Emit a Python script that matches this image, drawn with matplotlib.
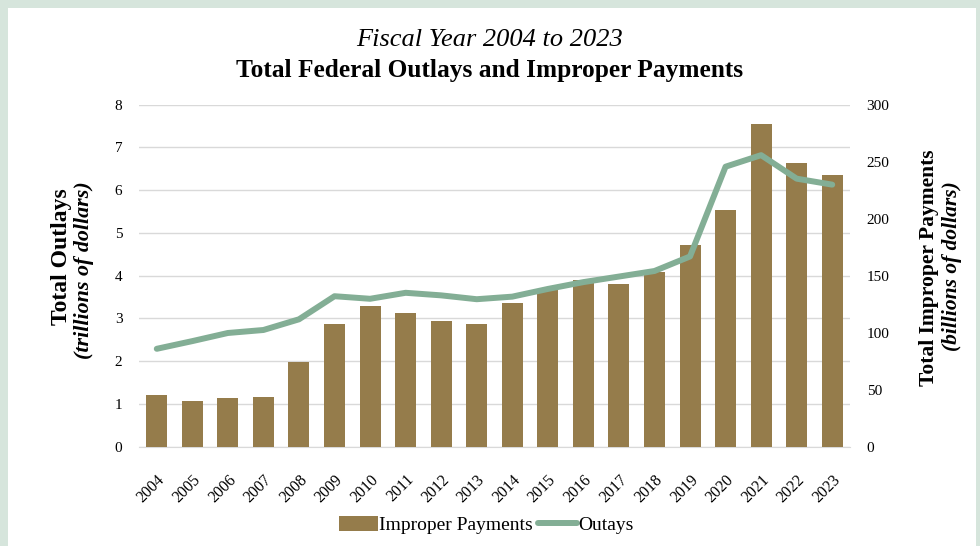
import matplotlib
matplotlib.use("Agg")
import matplotlib.pyplot as plt
from matplotlib.patches import Rectangle
from matplotlib.lines import Line2D

years = [str(y) for y in range(2004, 2024)]
improper_payments = [45, 40, 43, 44, 74, 108, 123, 117, 110, 108,
                     126, 138, 146, 143, 153, 177, 208, 283, 249, 238]
outlays = [2.29, 2.47, 2.66, 2.73, 2.98, 3.52, 3.46, 3.60, 3.54, 3.45,
           3.51, 3.69, 3.85, 3.98, 4.11, 4.45, 6.55, 6.82, 6.27, 6.13]
left_ticks = [0, 1, 2, 3, 4, 5, 6, 7, 8]
right_ticks = [0, 50, 100, 150, 200, 250, 300]

BAR = "#957c4b"
LINE = "#83ae95"
BG = "#d6e5dc"
SERIF = "Liberation Serif"

fig = plt.figure(figsize=(9.8, 5.46), dpi=100)
fig.patch.set_facecolor(BG)
fig.add_artist(Rectangle((8 / 980, 0), (976 - 8) / 980, 1 - 8 / 546,
                         transform=fig.transFigure, facecolor="white",
                         edgecolor="none", zorder=0))

pos = [139 / 980, 1 - 446.7 / 546, (850 - 139) / 980, (446.7 - 104.7) / 546]
ax = fig.add_axes(pos)
ax.set_zorder(1)
ax.set_ylim(0, 8)
ax.set_yticks(left_ticks)
ax.set_yticklabels([str(t) for t in left_ticks], family=SERIF, fontsize=11)
ax.grid(axis="y", color="#d9d9d9", linewidth=1.0)
ax.set_axisbelow(True)
x = list(range(len(years)))
ax.set_xlim(-0.5, len(years) - 0.5)
ax.set_xticks(x)
ax.set_xticklabels(years, rotation=45, ha="right", rotation_mode="anchor",
                   family=SERIF, fontsize=11.5)
for s in ["top", "right", "left"]:
    ax.spines[s].set_visible(False)
ax.spines["bottom"].set_color("#d9d9d9")
ax.tick_params(axis="y", length=0, pad=12)
ax.tick_params(axis="x", length=0, pad=18)
ax.set_facecolor("white")

axb = ax.twinx()
axb.set_zorder(2)
axb.patch.set_visible(False)
axb.bar(x, improper_payments, width=0.59, color=BAR, zorder=2)
axb.set_ylim(0, 300)
axb.set_yticks(right_ticks)
axb.set_yticklabels([str(t) for t in right_ticks], family=SERIF, fontsize=11)
axb.tick_params(length=0, pad=12)
for s in axb.spines.values():
    s.set_visible(False)

axl = ax.twinx()
axl.set_zorder(3)
axl.patch.set_visible(False)
axl.plot(x, outlays, color=LINE, linewidth=4.3, solid_capstyle="round",
         solid_joinstyle="round")
axl.set_ylim(0, 8)
axl.axis("off")

# titles
fig.text(0.5, 1 - 40 / 546, "Fiscal Year 2004 to 2023", ha="center", va="center",
         family=SERIF, style="italic", fontsize=19)
fig.text(0.5, 1 - 70 / 546, "Total Federal Outlays and Improper Payments",
         ha="center", va="center", family=SERIF, weight="bold", fontsize=18.3)

# axis labels
fig.text(62 / 980, 1 - 257 / 546, "Total Outlays", rotation=90, ha="center",
         va="center", family=SERIF, weight="bold", fontsize=17)
fig.text(84 / 980, 1 - 270 / 546, "(trillions of dollars)", rotation=90,
         ha="center", va="center", family=SERIF, weight="bold",
         style="italic", fontsize=15.8)
fig.text(929 / 980, 1 - 268 / 546, "Total Improper Payments", rotation=90,
         ha="center", va="center", family=SERIF, weight="bold", fontsize=15.5)
fig.text(952 / 980, 1 - 266 / 546, "(billions of dollars)", rotation=90,
         ha="center", va="center", family=SERIF, weight="bold",
         style="italic", fontsize=15.5)

handles = [Rectangle((0, 0), 1, 1, facecolor=BAR, edgecolor="none"),
           Line2D([0], [0], color=LINE, linewidth=4.3, solid_capstyle="round")]
fig.legend(handles, ["Improper Payments", "Outays"], loc="center",
           bbox_to_anchor=(486 / 980, 1 - 525 / 546), ncol=2, frameon=False,
           prop={"family": SERIF, "size": 14}, handlelength=2.0,
           handleheight=0.8, handletextpad=0.05, columnspacing=0.3)

fig.savefig("out.png", dpi=100, facecolor=fig.get_facecolor())
